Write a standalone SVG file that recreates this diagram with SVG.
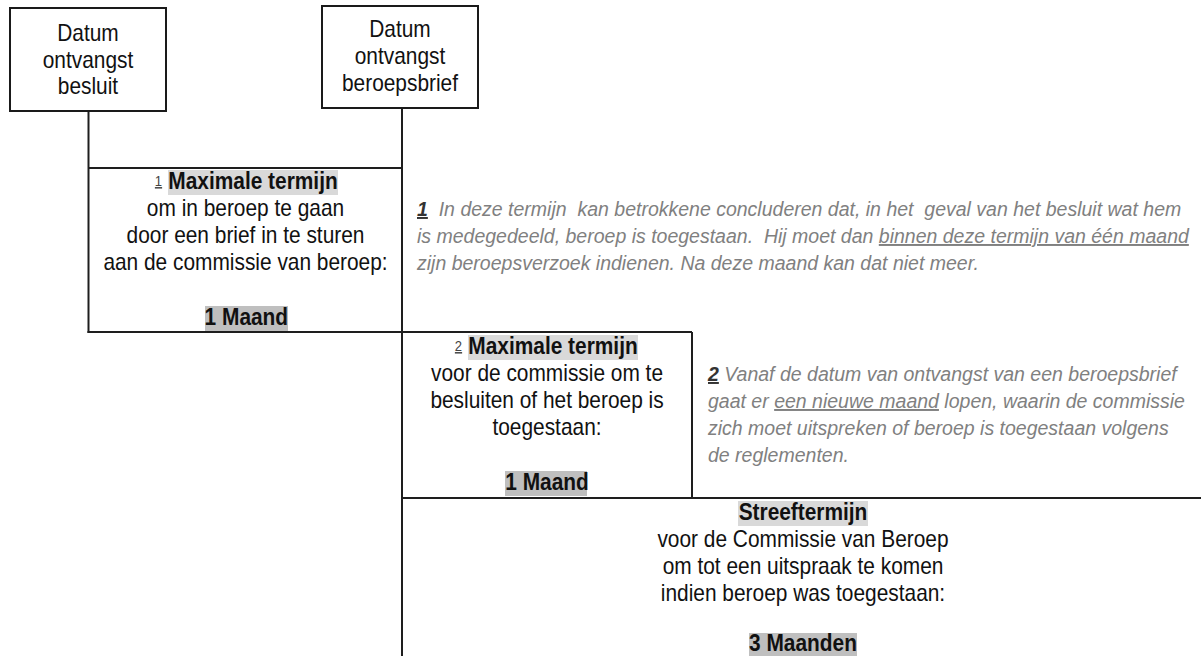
<svg xmlns="http://www.w3.org/2000/svg" width="1201" height="656" viewBox="0 0 1201 656">
<style>
.t{font-family:"Liberation Sans",Arial,sans-serif;font-size:24px;fill:#111;text-anchor:middle}
.b{font-weight:bold}
.sup{font-family:"Liberation Sans",Arial,sans-serif;font-size:15px;fill:#444;text-anchor:middle;text-decoration:underline}
.n{font-family:"Liberation Sans",Arial,sans-serif;font-size:19.5px;font-style:italic;fill:#808080;white-space:pre}
.nn{font-weight:bold;fill:#333;text-decoration:underline}
.u{text-decoration:underline}
.box{fill:#fff;stroke:#1a1a1a;stroke-width:2}
.hl{fill:#d9d9d9}
.hd{fill:#bfbfbf}
.ln{stroke:#1e1e1e;stroke-width:2;fill:none}
</style>
<rect width="1201" height="656" fill="#fff"/>
<g id="connectors">
<line class="ln" x1="88.5" y1="111" x2="88.5" y2="333"/>
<line class="ln" x1="402" y1="108" x2="402" y2="656"/>
<line class="ln" x1="88.5" y1="168" x2="402" y2="168"/>
<line class="ln" x1="87.5" y1="332" x2="692" y2="332"/>
<line class="ln" x1="692" y1="332" x2="692" y2="498"/>
<line class="ln" x1="402" y1="498" x2="1201" y2="498"/>
</g>
<g id="datum-besluit">
<rect class="box" x="10" y="8" width="156" height="103"/>
<g transform="translate(88 0) scale(0.87 1)">
<text class="t" x="0" y="41">Datum</text>
<text class="t" x="0" y="68">ontvangst</text>
<text class="t" x="0" y="94">besluit</text>
</g>
</g>
<g id="datum-beroepsbrief">
<rect class="box" x="322" y="6" width="156" height="102"/>
<g transform="translate(400 0) scale(0.87 1)">
<text class="t" x="0" y="37">Datum</text>
<text class="t" x="0" y="64">ontvangst</text>
<text class="t" x="0" y="91">beroepsbrief</text>
</g>
</g>
<g id="termijn1">
<rect class="hl" x="168" y="170" width="170" height="25"/>
<rect class="hd" x="205" y="306" width="83" height="25"/>
<g transform="translate(158.5 0) scale(0.87 1)"><text class="sup" x="0" y="186">1</text></g>
<g transform="translate(253 0) scale(0.87 1)"><text class="t b" x="0" y="189">Maximale termijn</text></g>
<g transform="translate(245.5 0) scale(0.87 1)">
<text class="t" x="0" y="216">om in beroep te gaan</text>
<text class="t" x="0" y="243">door een brief in te sturen</text>
<text class="t" x="0" y="270">aan de commissie van beroep:</text>
<text class="t b" x="1" y="325">1 Maand</text>
</g>
</g>
<g id="termijn2">
<rect class="hl" x="468" y="335" width="170" height="25"/>
<rect class="hd" x="505" y="471" width="82" height="25"/>
<g transform="translate(458.5 0) scale(0.87 1)"><text class="sup" x="0" y="351">2</text></g>
<g transform="translate(553 0) scale(0.87 1)"><text class="t b" x="0" y="354">Maximale termijn</text></g>
<g transform="translate(547 0) scale(0.87 1)">
<text class="t" x="0" y="381">voor de commissie om te</text>
<text class="t" x="0" y="408">besluiten of het beroep  is</text>
<text class="t" x="0" y="435">toegestaan:</text>
<text class="t b" x="0" y="490">1 Maand</text>
</g>
</g>
<g id="streeftermijn">
<rect class="hl" x="738" y="501" width="130" height="25"/>
<rect class="hd" x="749" y="633" width="108" height="23"/>
<g transform="translate(803 0) scale(0.87 1)">
<text class="t b" x="0" y="520">Streeftermijn</text>
<text class="t" x="0" y="547">voor de Commissie van Beroep</text>
<text class="t" x="0" y="574">om tot een uitspraak te komen</text>
<text class="t" x="0" y="601">indien beroep was toegestaan:</text>
<text class="t b" x="0" y="651">3 Maanden</text>
</g>
</g>
<g id="note1">
<text class="n" x="417" y="216"><tspan class="nn">1</tspan>  In deze termijn  kan betrokkene concluderen dat, in het  geval van het besluit wat hem</text>
<text class="n" x="417" y="243">is medegedeeld, beroep is toegestaan.  Hij moet dan <tspan class="u">binnen deze termijn van één maand</tspan></text>
<text class="n" x="417" y="270">zijn beroepsverzoek indienen. Na deze maand kan dat niet meer.</text>
</g>
<g id="note2">
<text class="n" x="708" y="381"><tspan class="nn">2</tspan> Vanaf de datum van ontvangst van een beroepsbrief</text>
<text class="n" x="708" y="408">gaat er <tspan class="u">een nieuwe maand</tspan> lopen, waarin de commissie</text>
<text class="n" x="708" y="435">zich moet uitspreken of beroep is toegestaan volgens</text>
<text class="n" x="708" y="462">de reglementen.</text>
</g>
</svg>
